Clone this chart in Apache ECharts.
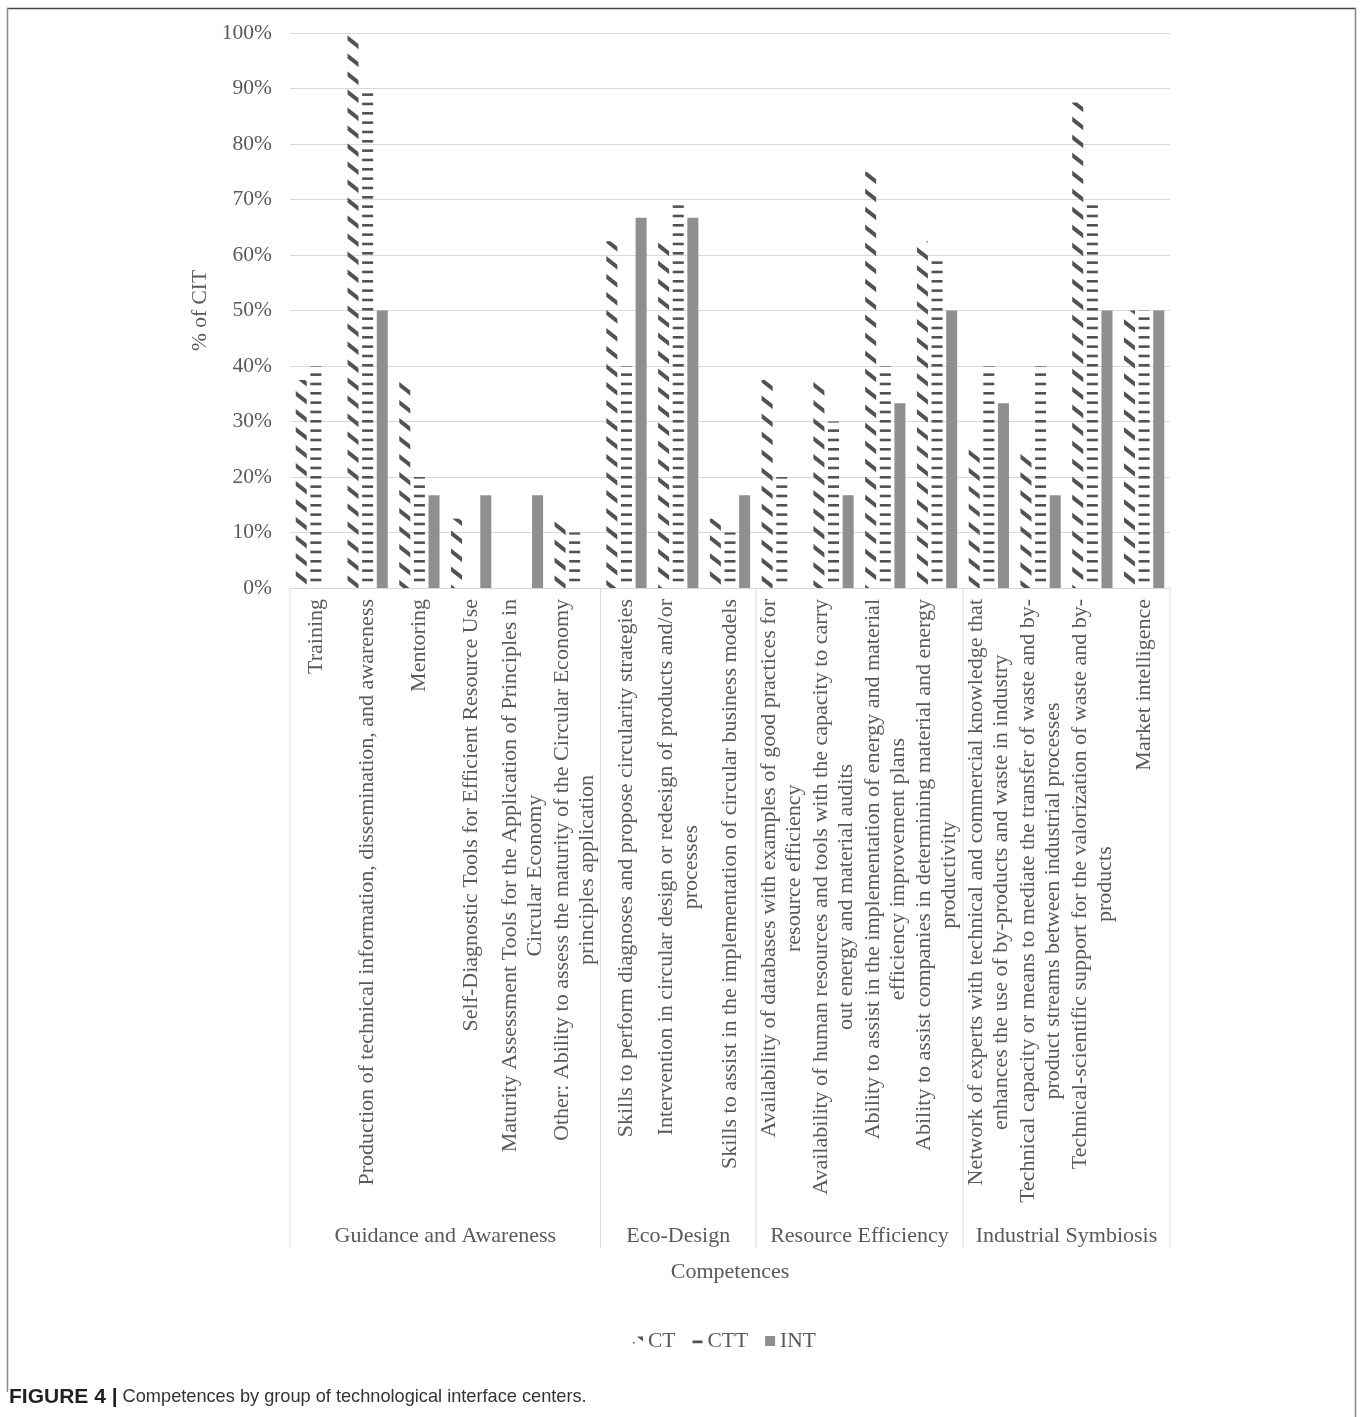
<!DOCTYPE html>
<html><head><meta charset="utf-8">
<script src="https://cdn.jsdelivr.net/npm/echarts@6/dist/echarts.min.js"></script>
<style>html,body{margin:0;padding:0;background:#fff}#c{width:1360px;height:1417px}</style>
</head><body><div id="c"></div>
<script>
const categories = [
  'Training',
  'Production of technical information, dissemination, and awareness',
  'Mentoring',
  'Self-Diagnostic Tools for Efficient Resource Use',
  'Maturity Assessment Tools for the Application of Principles in\nCircular Economy',
  'Other: Ability to assess the maturity of the Circular Economy\nprinciples application',
  'Skills to perform diagnoses and propose circularity strategies',
  'Intervention in circular design or redesign of products and/or\nprocesses',
  'Skills to assist in the implementation of circular business models',
  'Availability of databases with examples of good practices for\nresource efficiency',
  'Availability of human resources and tools with the capacity to carry\nout energy and material audits',
  'Ability to assist in the implementation of energy and material\nefficiency improvement plans',
  'Ability to assist companies in determining material and energy\nproductivity',
  'Network of experts with technical and commercial knowledge that\nenhances the use of by-products and waste in industry',
  'Technical capacity or means to mediate the transfer of waste and by-\nproduct streams between industrial processes',
  'Technical-scientific support for the valorization of waste and by-\nproducts',
  'Market intelligence'
];
const groupNames = ['Guidance and Awareness', 'Eco-Design', 'Resource Efficiency', 'Industrial Symbiosis'];
const groupSizes = [6, 3, 4, 4];
const seriesNames = ['CT', 'CTT', 'INT'];
const ctValues  = [37.5, 100, 37.5, 12.5, 0, 12.5, 62.5, 62.5, 12.5, 37.5, 37.5, 75, 62.5, 25, 25, 87.5, 50];
const cttValues = [40, 90, 20, 0, 0, 10, 40, 70, 10, 20, 30, 40, 60, 40, 40, 70, 50];
const intValues = [0, 50, 16.7, 16.7, 16.7, 0, 66.7, 66.7, 16.7, 0, 16.7, 33.3, 50, 33.3, 16.7, 50, 50];
const yAxisName = '% of CIT';
const xAxisName = 'Competences';
const captionBold = 'FIGURE 4 |';
const captionText = ' Competences by group of technological interface centers.';

const SERIF = '"Liberation Serif", "Times New Roman", serif';
const TXT = '#595959';
const DARK = '#525252';

// "\" dashed-diagonal fill (strokes run from top-left down to bottom-right)
function makeDiag() {
  const W = 23, H = 18;
  const c = document.createElement('canvas');
  c.width = W; c.height = H;
  const g = c.getContext('2d');
  g.strokeStyle = DARK; g.lineWidth = 4; g.lineCap = 'butt';
  for (let k = -1; k <= 1; k++) {
    g.beginPath();
    g.moveTo(-W + k * W, -H);
    g.lineTo(2 * W + k * W, 2 * H);
    g.stroke();
  }
  return c;
}
// horizontal dash fill
function makeHoriz() {
  const W = 4, H = 28;
  const c = document.createElement('canvas');
  c.width = W; c.height = H;
  const g = c.getContext('2d');
  g.fillStyle = DARK;
  for (let k = 0; k < 3; k++) g.fillRect(0, k * H / 3, W, 2.6);
  return c;
}
const diagPattern = { image: makeDiag(), repeat: 'repeat' };
const horizPattern = { image: makeHoriz(), repeat: 'repeat' };

const chart = echarts.init(document.getElementById('c'), null, { renderer: 'canvas' });
const option = {
  animation: false,
  backgroundColor: '#fff',
  textStyle: { fontFamily: SERIF },
  grid: { left: 290, right: 190, top: 33, bottom: 829, containLabel: false },
  legend: {
    left: 633, top: 1330, padding: 0,
    itemWidth: 10, itemHeight: 10, itemGap: 17,
    textStyle: { fontFamily: SERIF, fontSize: 21.5, color: TXT },
    data: [
      { name: 'CT', icon: 'path://M0,0L0.01,0L0.01,0.01Z M0,6L1.6,6L1.6,7.6L0,7.6Z M4,0.5L10,0.5L10,5.5Z M9.99,9.99L10,9.99L10,10Z', itemStyle: { color: DARK } },
      { name: 'CTT', icon: 'path://M0,0L0.01,0L0.01,0.01Z M0,4.6L10,4.6L10,7.2L0,7.2Z M9.99,9.99L10,9.99L10,10Z', itemStyle: { color: DARK } },
      { name: 'INT', icon: 'rect', itemStyle: { color: '#8f8f8f' } }
    ]
  },
  xAxis: {
    type: 'category',
    data: categories,
    name: xAxisName,
    nameLocation: 'middle',
    nameGap: 673,
    nameTextStyle: { fontFamily: SERIF, fontSize: 22, color: TXT },
    axisLine: { show: true, lineStyle: { color: '#d9d9d9', width: 1 } },
    axisTick: { show: false },
    axisLabel: {
      interval: 0, rotate: 90, margin: 11,
      color: TXT, fontFamily: SERIF, fontSize: 22,
      formatter: v => v.split('\n').map(l => '{c|' + l + '}').join('\n'),
      rich: { c: { align: 'center', fontFamily: SERIF, fontSize: 22, color: TXT, lineHeight: 25 } }
    }
  },
  yAxis: {
    type: 'value', min: 0, max: 100, interval: 10,
    name: yAxisName, nameLocation: 'middle', nameGap: 73, nameRotate: 90,
    nameTextStyle: { fontFamily: SERIF, fontSize: 21.5, color: TXT },
    axisLine: { show: false }, axisTick: { show: false },
    axisLabel: { formatter: '{value}%', margin: 18, color: TXT, fontFamily: SERIF, fontSize: 21.5 },
    splitLine: { lineStyle: { color: '#d9d9d9', width: 1 } }
  },
  series: [
    { name: 'CT', type: 'bar', data: ctValues, barWidth: 11, barGap: '33%', itemStyle: { color: diagPattern } },
    { name: 'CTT', type: 'bar', data: cttValues, barWidth: 11, barGap: '33%', itemStyle: { color: horizPattern } },
    { name: 'INT', type: 'bar', data: intValues, barWidth: 11, barGap: '33%', itemStyle: { color: '#8f8f8f' } }
  ]
};
chart.setOption(option);

// axis decorations derived from the chart's own scales
const c0 = chart.convertToPixel({ xAxisIndex: 0 }, 0);
const c1 = chart.convertToPixel({ xAxisIndex: 0 }, 1);
const band = c1 - c0;
const yBase = chart.convertToPixel({ yAxisIndex: 0 }, 0);
const sepBottom = yBase + 660;
const graphics = [];
let idx = 0;
const bounds = [c0 - band / 2];
groupSizes.forEach((n, gi) => {
  const left = chart.convertToPixel({ xAxisIndex: 0 }, idx) - band / 2;
  const right = chart.convertToPixel({ xAxisIndex: 0 }, idx + n - 1) + band / 2;
  bounds.push(right);
  graphics.push({
    type: 'text', x: (left + right) / 2, y: yBase + 648,
    style: { text: groupNames[gi], fill: TXT, font: '22px ' + SERIF, align: 'center', verticalAlign: 'middle' }
  });
  idx += n;
});
bounds.forEach(b => {
  graphics.push({ type: 'line', shape: { x1: b, y1: yBase, x2: b, y2: sepBottom }, style: { stroke: '#d9d9d9', lineWidth: 1 } });
});
// figure frame
graphics.push({ type: 'line', shape: { x1: 7, y1: 8.5, x2: 1356, y2: 8.5 }, style: { stroke: '#444', lineWidth: 1.5 } });
graphics.push({ type: 'line', shape: { x1: 7.5, y1: 8, x2: 7.5, y2: 1392 }, style: { stroke: '#888', lineWidth: 1.5 } });
graphics.push({ type: 'line', shape: { x1: 1355.5, y1: 8, x2: 1355.5, y2: 1417 }, style: { stroke: '#888', lineWidth: 1.5 } });
// caption
graphics.push({
  type: 'text', x: 9, y: 1397,
  style: {
    text: '{b|' + captionBold + '}{r|' + captionText + '}',
    verticalAlign: 'middle', align: 'left',
    rich: {
      b: { font: 'bold 21px "Liberation Sans", Arial, sans-serif', fill: '#231f20' },
      r: { font: '18.2px "Liberation Sans", Arial, sans-serif', fill: '#333' }
    }
  }
});
chart.setOption({ graphic: graphics });
</script>
</body></html>
